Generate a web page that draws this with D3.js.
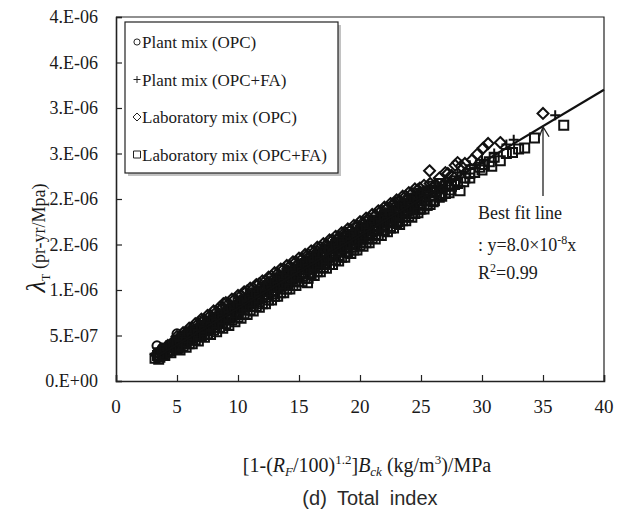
<!DOCTYPE html>
<html>
<head>
<meta charset="utf-8">
<script src="https://cdn.jsdelivr.net/npm/d3@7/dist/d3.min.js"></script>
<style>
    body { margin: 0; background: #fff; }
    svg text { font-family: "Liberation Serif", "Times New Roman", serif; fill: #1a1a1a; }
</style>
</head>
<body>
<div id="chart"></div>
<script>

// ---- data (y values are in units of 1e-7 pr-yr/MPa) ----
let xTicks = [0, 5, 10, 15, 20, 25, 30, 35, 40];
let yTicks = [0, 5, 10, 15, 20, 25, 30, 35, 40];
let yTickLabels = ["0.E+00", "5.E-07", "1.E-06", "2.E-06", "2.E-06", "3.E-06", "3.E-06", "4.E-06", "4.E-06"];

let seriesNames = ["Plant mix (OPC)", "Plant mix (OPC+FA)", "Laboratory mix (OPC)", "Laboratory mix (OPC+FA)"];

let plantOpc = [
    [3.36, 3.86], [3.8, 3.6], [4.3, 3.9], [5.0, 5.18], [5.6, 5.0], [6.2, 5.4], [6.8, 5.9], [7.4, 6.3],
    [8.0, 6.9], [8.6, 7.3], [9.2, 7.8], [9.8, 8.3], [10.4, 8.8], [11.0, 9.2], [11.6, 9.8], [12.2, 10.2],
    [12.8, 10.8], [13.4, 11.2], [14.0, 11.8], [14.6, 12.2], [15.2, 12.8], [15.8, 13.2], [16.4, 13.8],
    [17.0, 14.2], [17.6, 14.8], [18.2, 15.2], [18.8, 15.8], [19.4, 16.2], [20.0, 16.7], [21.0, 17.4], [22.0, 18.3]
];

let plantOpcFa = [
    [4.0, 3.4], [4.6, 3.6], [5.2, 4.4], [5.8, 4.6], [6.4, 5.4], [6.9, 6.6], [7.0, 5.7], [7.6, 6.3],
    [8.2, 6.6], [8.8, 7.3], [9.4, 7.6], [10.0, 8.3], [10.6, 8.6], [11.2, 9.3], [11.8, 9.6], [12.4, 10.3],
    [13.0, 10.6], [13.6, 11.2], [14.2, 11.6], [14.8, 12.2], [15.4, 12.6], [16.0, 13.1], [16.6, 13.6],
    [17.2, 14.1], [17.8, 14.6], [18.4, 15.1], [19.0, 15.5], [19.6, 16.0], [20.2, 16.6], [20.8, 17.0],
    [21.4, 17.5], [22.0, 18.0], [22.6, 18.5], [23.2, 18.9], [23.8, 19.5], [24.4, 19.9], [25.0, 20.4],
    [25.6, 20.9], [26.2, 21.4], [27.0, 22.0], [28.0, 22.9], [29.0, 23.7], [30.0, 24.3], [32.0, 26.0],
    [32.6, 26.5], [36.0, 29.2],
    [3.6, 3.0], [4.3, 3.5], [4.9, 3.8], [5.5, 4.5], [6.1, 4.8], [6.7, 5.5], [7.3, 5.8], [7.9, 6.5],
    [8.5, 6.7], [9.1, 7.5], [9.7, 7.7], [10.3, 8.4], [10.9, 8.6], [11.5, 9.4], [12.1, 9.6], [12.7, 10.3],
    [13.3, 10.5], [13.9, 11.3], [14.5, 11.5], [15.1, 12.2], [15.7, 12.4], [16.3, 13.2], [16.9, 13.4],
    [17.5, 14.1], [18.1, 14.3], [18.7, 15.1], [19.3, 15.3], [19.9, 16.0], [20.5, 16.2], [21.1, 17.0],
    [21.7, 17.2], [22.3, 17.9], [22.9, 18.1], [23.5, 18.9], [24.1, 19.1], [24.7, 19.9], [25.3, 20.1],
    [25.9, 20.8], [26.6, 21.3], [27.5, 22.1], [28.5, 23.0], [29.5, 23.8], [31.0, 25.0]
];

let labOpc = [
    [3.3, 2.9], [3.7, 3.4], [4.0, 3.2], [4.1, 3.5], [4.5, 4.0], [4.9, 4.1], [5.0, 3.9], [5.3, 4.7],
    [5.7, 4.8], [6.0, 4.9], [6.1, 5.4], [6.5, 5.5], [6.9, 6.0], [7.0, 5.6], [7.3, 6.2], [7.7, 6.7],
    [8.0, 6.5], [8.1, 6.8], [8.5, 7.3], [8.8, 8.5], [8.9, 7.5], [9.0, 7.1], [9.3, 8.0], [9.7, 8.1],
    [10.0, 8.1], [10.1, 8.7], [10.5, 8.8], [10.9, 9.3], [11.0, 8.8], [11.3, 9.5], [11.7, 10.1],
    [12.0, 9.7], [12.1, 10.1], [12.5, 10.8], [12.9, 10.8], [13.0, 10.4], [13.3, 11.5], [13.7, 11.4],
    [14.0, 11.3], [14.1, 12.1], [14.5, 12.0], [14.9, 12.8], [15.0, 12.0], [15.3, 12.7], [15.7, 13.5],
    [16.0, 12.9], [16.1, 13.3], [16.5, 14.2], [16.9, 14.0], [17.0, 13.6], [17.3, 14.8], [17.7, 14.7],
    [18.0, 14.5], [18.1, 15.5], [18.5, 15.3], [18.9, 16.2], [19.0, 15.2], [19.3, 16.0], [19.7, 16.9],
    [20.0, 16.1], [20.1, 16.6], [20.5, 17.5], [20.9, 17.3], [21.0, 16.8], [21.3, 18.2], [21.7, 18.0],
    [22.0, 17.7], [22.1, 18.8], [22.5, 18.6], [22.9, 19.6], [23.0, 18.4], [23.3, 19.3], [23.9, 20.1],
    [24.0, 19.3], [24.3, 20.0], [24.9, 21.2], [25.0, 20.1], [25.3, 20.7], [25.7, 23.1], [26.0, 20.8],
    [26.2, 21.6], [27.0, 22.9], [27.5, 22.6], [27.8, 23.7], [28.0, 24.0], [28.6, 23.9], [29.2, 24.3],
    [30.1, 25.6], [30.5, 26.1], [31.5, 26.2], [35.0, 29.4],
    [3.75, 3.5], [4.25, 3.9], [4.25, 3.1], [4.75, 4.4], [4.75, 3.6], [5.25, 4.9], [5.25, 4.0],
    [5.75, 5.3], [5.75, 4.4], [6.25, 5.8], [6.25, 4.8], [6.75, 6.3], [6.75, 5.1], [7.25, 6.7],
    [7.25, 5.5], [7.75, 7.2], [7.75, 5.9], [8.25, 7.6], [8.25, 6.3], [8.75, 8.1], [8.75, 6.6],
    [9.25, 8.5], [9.25, 7.0], [9.75, 9.0], [9.75, 7.4], [10.25, 9.4], [10.25, 7.8], [10.75, 9.9],
    [10.75, 8.2], [11.25, 10.2], [11.25, 8.6], [11.75, 10.7], [11.75, 9.0], [12.25, 11.0], [12.25, 9.3],
    [12.75, 11.5], [12.75, 9.7], [13.25, 11.8], [13.25, 10.1], [13.75, 12.3], [13.75, 10.5],
    [14.25, 12.6], [14.25, 10.9], [14.75, 13.1], [14.75, 11.3], [15.25, 13.4], [15.25, 11.7],
    [15.75, 13.9], [15.75, 12.1], [16.25, 14.2], [16.25, 12.5], [16.75, 14.7], [16.75, 12.9],
    [17.25, 15.0], [17.25, 13.3], [17.75, 15.5], [17.75, 13.7], [18.25, 15.8], [18.25, 14.1],
    [18.75, 16.3], [18.75, 14.5], [19.25, 16.6], [19.25, 14.9], [19.75, 17.1], [19.75, 15.3],
    [20.25, 17.4], [20.25, 15.7], [20.75, 17.9], [20.75, 16.1], [21.25, 18.2], [21.25, 16.5],
    [21.75, 18.7], [21.75, 16.9], [22.25, 19.0], [22.25, 17.3], [22.75, 19.5], [22.75, 17.7],
    [23.25, 19.8], [23.25, 18.1], [23.75, 20.3], [23.75, 18.5], [24.25, 20.6], [24.25, 18.9],
    [24.75, 21.0], [25.25, 21.5], [25.75, 21.7], [26.5, 22.3], [27.2, 22.8], [28.3, 23.6], [29.6, 24.9],
    [5.0, 4.4], [5.0, 4.9], [5.5, 4.8], [5.5, 5.3], [6.0, 5.2], [6.0, 5.8], [6.5, 5.6], [6.5, 6.3],
    [7.0, 6.0], [7.0, 6.8], [7.5, 6.4], [7.5, 7.2], [8.0, 6.8], [8.0, 7.7], [8.5, 7.2], [8.5, 8.1],
    [9.0, 7.6], [9.0, 8.6], [9.5, 8.0], [9.5, 9.0], [10.0, 8.4], [10.0, 9.4], [10.5, 8.8], [10.5, 9.8],
    [11.0, 9.2], [11.0, 10.2], [11.5, 9.6], [11.5, 10.6], [12.0, 10.0], [12.0, 11.0], [12.5, 10.4],
    [12.5, 11.4], [13.0, 10.8], [13.0, 11.9], [13.5, 11.2], [13.5, 12.3], [14.0, 11.6], [14.0, 12.7],
    [14.5, 12.0], [14.5, 13.1], [15.0, 12.4], [15.0, 13.5], [15.5, 12.8], [15.5, 13.9], [16.0, 13.2],
    [16.0, 14.3], [16.5, 13.6], [16.5, 14.7], [17.0, 14.0], [17.0, 15.1], [17.5, 14.4], [17.5, 15.5],
    [18.0, 14.8], [18.0, 15.9], [18.5, 15.2], [18.5, 16.3], [19.0, 15.6], [19.0, 16.7], [19.5, 16.0],
    [19.5, 17.1], [20.0, 16.4], [20.0, 17.5], [20.5, 16.8], [20.5, 17.9], [21.0, 17.2], [21.0, 18.3],
    [21.5, 17.6], [21.5, 18.7], [22.0, 18.0], [22.0, 19.1], [22.5, 18.4], [22.5, 19.5], [23.0, 18.8],
    [23.0, 19.9], [23.5, 19.2], [23.5, 20.3], [24.0, 19.6], [24.0, 20.7], [24.5, 20.0], [24.5, 21.1],
    [25.0, 20.4], [25.5, 20.8], [26.0, 21.2]
];

let labOpcFa = [
    [3.2, 2.5], [3.4, 2.8], [3.6, 2.6], [3.8, 3.0], [4.0, 3.4], [4.2, 3.2], [4.4, 3.3], [4.6, 3.9],
    [4.8, 3.7], [5.0, 4.1], [5.1, 3.6], [5.2, 3.9], [5.4, 4.5], [5.6, 4.3], [5.7, 4.1], [5.8, 4.6],
    [6.0, 4.5], [6.2, 5.1], [6.3, 4.5], [6.4, 4.9], [6.6, 5.4], [6.8, 5.2], [6.9, 5.0], [7.0, 5.5],
    [7.3, 6.0], [7.5, 5.5], [7.6, 5.7], [7.9, 6.4], [8.1, 5.9], [8.2, 6.3], [8.5, 7.0], [8.7, 6.4],
    [8.8, 6.7], [9.1, 7.4], [9.3, 6.9], [9.4, 7.2], [9.7, 7.9], [9.9, 7.3], [10.0, 7.6], [10.3, 8.4],
    [10.5, 7.8], [10.6, 8.2], [10.9, 8.9], [11.1, 8.2], [11.2, 8.6], [11.5, 9.3], [11.7, 8.7],
    [11.8, 9.0], [12.1, 9.8], [12.3, 9.2], [12.4, 9.5], [12.7, 10.3], [12.9, 9.6], [13.0, 9.9],
    [13.3, 10.8], [13.5, 10.1], [13.6, 10.5], [13.9, 11.2], [14.1, 10.6], [14.2, 10.9], [14.5, 11.7],
    [14.7, 11.0], [14.8, 11.4], [15.1, 12.2], [15.3, 11.5], [15.4, 11.8], [15.7, 10.8], [15.7, 12.7],
    [15.9, 11.9], [16.0, 12.3], [16.3, 13.1], [16.5, 12.4], [16.6, 12.8], [16.9, 13.6], [17.1, 12.9],
    [17.2, 13.2], [17.5, 14.1], [17.7, 13.3], [17.8, 13.7], [18.1, 14.6], [18.3, 13.8], [18.4, 14.2],
    [18.7, 15.0], [18.9, 14.2], [19.0, 14.7], [19.3, 15.5], [19.5, 14.7], [19.6, 15.1], [19.9, 16.0],
    [20.1, 15.2], [20.2, 15.6], [20.5, 16.5], [20.7, 15.6], [20.8, 16.0], [21.1, 16.9], [21.3, 16.1],
    [21.4, 16.5], [21.7, 17.4], [21.9, 16.6], [22.0, 16.9], [22.3, 17.8], [22.5, 17.0], [22.6, 17.4],
    [22.9, 18.3], [23.1, 17.5], [23.2, 17.9], [23.5, 18.8], [23.7, 18.0], [23.8, 18.4], [24.1, 19.2],
    [24.3, 18.4], [24.4, 18.8], [24.7, 19.8], [24.9, 18.9], [25.0, 19.3], [25.4, 20.2], [25.5, 19.3],
    [25.8, 19.8], [26.1, 19.8], [26.2, 20.9], [26.6, 20.4], [26.7, 20.3], [27.0, 21.4], [27.3, 20.7],
    [27.4, 21.0], [27.8, 22.0], [28.2, 20.9], [28.6, 22.3], [29.0, 22.8], [29.4, 22.9], [29.8, 23.5],
    [30.2, 23.8], [30.6, 24.1], [31.0, 24.6], [31.5, 24.2], [32.0, 25.0], [32.5, 25.1], [33.0, 25.5],
    [33.5, 25.6], [34.3, 26.7], [36.7, 28.1],
    [3.5, 2.4], [3.5, 3.1], [4.0, 2.8], [4.0, 3.6], [4.5, 3.1], [4.5, 3.9], [5.0, 3.5], [5.0, 4.3],
    [5.5, 3.8], [5.5, 4.7], [6.0, 4.1], [6.0, 5.2], [6.5, 4.5], [6.5, 5.6], [7.0, 4.9], [7.0, 6.0],
    [7.5, 5.2], [7.5, 6.5], [8.0, 5.6], [8.0, 6.9], [8.5, 5.9], [8.5, 7.3], [9.0, 6.3], [9.0, 7.8],
    [9.5, 6.7], [9.5, 8.1], [10.0, 7.0], [10.0, 8.6], [10.5, 7.4], [10.5, 8.9], [11.0, 7.8], [11.0, 9.4],
    [11.5, 8.2], [11.5, 9.7], [12.0, 8.5], [12.0, 10.2], [12.5, 8.9], [12.5, 10.5], [13.0, 9.3],
    [13.0, 11.0], [13.5, 9.7], [13.5, 11.3], [14.0, 10.1], [14.0, 11.8], [14.5, 10.5], [14.5, 12.1],
    [15.0, 10.9], [15.0, 12.6], [15.5, 11.3], [15.5, 12.9], [16.0, 11.7], [16.0, 13.4], [16.5, 12.0],
    [16.5, 13.7], [17.0, 12.5], [17.0, 14.2], [17.5, 12.8], [17.5, 14.5], [18.0, 13.3], [18.0, 15.0],
    [18.5, 13.6], [18.5, 15.3], [19.0, 14.1], [19.0, 15.8], [19.5, 14.4], [19.5, 16.1], [20.0, 14.9],
    [20.0, 16.6], [20.5, 15.2], [20.5, 16.9], [21.0, 15.7], [21.0, 17.4], [21.5, 16.0], [21.5, 17.7],
    [22.0, 16.5], [22.0, 18.2], [22.5, 16.8], [22.5, 18.5], [23.0, 17.3], [23.0, 19.0], [23.5, 17.6],
    [23.5, 19.3], [24.0, 18.1], [24.0, 19.8], [24.5, 18.4], [24.5, 20.1], [25.0, 18.9], [25.0, 20.6],
    [25.5, 19.3], [25.5, 20.9], [26.0, 19.7], [26.0, 21.4], [26.5, 20.2], [26.5, 21.7], [27.0, 20.6],
    [27.5, 21.4], [28.0, 21.7], [28.5, 21.9], [29.0, 22.3], [30.0, 23.2], [30.8, 23.6],
    [5.25, 3.9], [5.25, 3.4], [5.75, 4.3], [5.75, 3.7], [6.25, 4.7], [6.25, 4.1], [6.75, 5.1], [6.75, 4.4],
    [7.25, 5.5], [7.25, 4.8], [7.75, 5.9], [7.75, 5.1], [8.25, 6.3], [8.25, 5.4], [8.75, 6.7], [8.75, 5.8],
    [9.25, 7.1], [9.25, 6.1], [9.75, 7.5], [9.75, 6.5], [10.25, 7.9], [10.25, 6.9], [10.75, 8.3],
    [10.75, 7.3], [11.25, 8.7], [11.25, 7.7], [11.75, 9.1], [11.75, 8.1], [12.25, 9.5], [12.25, 8.5],
    [12.75, 9.9], [12.75, 8.9], [13.25, 10.3], [13.25, 9.3], [13.75, 10.7], [13.75, 9.7], [14.25, 11.1],
    [14.25, 10.1], [14.75, 11.5], [14.75, 10.5], [15.25, 11.9], [15.25, 10.9], [15.75, 12.3],
    [15.75, 11.3], [16.25, 12.7], [16.25, 11.6], [16.75, 13.1], [16.75, 12.0], [17.25, 13.5],
    [17.25, 12.4], [17.75, 13.9], [17.75, 12.8], [18.25, 14.3], [18.25, 13.2], [18.75, 14.7],
    [18.75, 13.6], [19.25, 15.1], [19.25, 14.0], [19.75, 15.5], [19.75, 14.4], [20.25, 15.9],
    [20.25, 14.8], [20.75, 16.3], [20.75, 15.2], [21.25, 16.7], [21.25, 15.6], [21.75, 17.1],
    [21.75, 16.0], [22.25, 17.5], [22.25, 16.4], [22.75, 17.9], [22.75, 16.8], [23.25, 18.3],
    [23.25, 17.2], [23.75, 18.7], [23.75, 17.6], [24.25, 19.1], [24.25, 18.0], [24.75, 19.5],
    [24.75, 18.5], [25.25, 19.9], [25.25, 18.9], [25.75, 20.3], [25.75, 19.4], [26.25, 20.7],
    [26.75, 21.1], [27.25, 21.5], [27.75, 21.6]
];

let fitSlope = 0.8;          // y = 8.0e-8 x  (in 1e-7 units)
let fitRange = [3, 40];

// ---- layout ----
let width = 631, height = 511;
let margin = {top: 17, right: 27, bottom: 130, left: 116};

let svg = d3.select("#chart").append("svg")
    .attr("width", width)
    .attr("height", height);

let x = d3.scaleLinear().domain([0, 40]).range([margin.left, width - margin.right]);
let y = d3.scaleLinear().domain([0, 40]).range([height - margin.bottom, margin.top]);

// frame (top + right)
svg.append("path")
    .attr("d", `M${x(0)},${y(40)}H${x(40)}V${y(0)}`)
    .attr("fill", "none")
    .attr("stroke", "#222")
    .attr("stroke-width", 1.2);

// axes, ticks pointing inward
let xAxis = d3.axisTop(x).tickValues(xTicks).tickSize(6).tickFormat("");
svg.append("g")
    .attr("transform", `translate(0,${y(0)})`)
    .call(xAxis)
    .call(g => g.select(".domain").attr("stroke", "#222").attr("stroke-width", 1.6))
    .call(g => g.selectAll(".tick line").attr("stroke", "#222").attr("stroke-width", 1.2));

let yAxis = d3.axisRight(y).tickValues(yTicks).tickSize(6).tickFormat("");
svg.append("g")
    .attr("transform", `translate(${x(0)},0)`)
    .call(yAxis)
    .call(g => g.select(".domain").attr("stroke", "#222").attr("stroke-width", 1.6))
    .call(g => g.selectAll(".tick line").attr("stroke", "#222").attr("stroke-width", 1.2));

// tick labels
svg.append("g").selectAll("text")
    .data(xTicks)
    .enter().append("text")
    .attr("x", d => x(d))
    .attr("y", y(0) + 32)
    .attr("text-anchor", "middle")
    .style("font-size", "19px")
    .text(d => d);

svg.append("g").selectAll("text")
    .data(yTicks)
    .enter().append("text")
    .attr("x", x(0) - 18)
    .attr("y", d => y(d) + 6)
    .attr("text-anchor", "end")
    .style("font-size", "18px")
    .text((d, i) => yTickLabels[i]);

// ---- markers ----
let mk = {
    circle: d3.symbol().type(d3.symbolCircle).size(64),
    plus: "M-5,0H5M0,-5V5",
    diamond: "M0,-5.5L5.5,0L0,5.5L-5.5,0Z",
    square: "M-4.5,-4.5H4.5V4.5H-4.5Z"
};

function drawSeries(data, shape) {
    svg.append("g").selectAll("path")
        .data(data)
        .enter().append("path")
        .attr("transform", d => `translate(${x(d[0])},${y(d[1])})`)
        .attr("d", typeof shape === "string" ? shape : shape())
        .attr("fill", "none")
        .attr("stroke", "#111")
        .attr("stroke-width", 2);
}

drawSeries(plantOpc, mk.circle);
drawSeries(plantOpcFa, mk.plus);
drawSeries(labOpc, mk.diamond);
drawSeries(labOpcFa, mk.square);

// best fit line
let line = d3.line().x(d => x(d)).y(d => y(d * fitSlope));
svg.append("path")
    .attr("d", line(fitRange))
    .attr("fill", "none")
    .attr("stroke", "#111")
    .attr("stroke-width", 2.2);

// arrow pointing at the fit line
let ax = 543;
let tipY = y(35.2 * fitSlope) + 2;
svg.append("path")
    .attr("d", `M${ax},196V${tipY}M${ax - 4},${tipY + 11}L${ax},${tipY}L${ax + 6},${tipY + 10}`)
    .attr("fill", "none")
    .attr("stroke", "#222")
    .attr("stroke-width", 1.3);

// annotation
let ann = svg.append("g").style("font-size", "18px");
ann.append("text").attr("x", 478).attr("y", 219).text("Best fit line");
let eq = ann.append("text").attr("x", 478).attr("y", 251);
eq.append("tspan").text(": y=8.0\u00d710");
eq.append("tspan").attr("dy", -7).style("font-size", "12px").text("-8");
eq.append("tspan").attr("dy", 7).text("x");
let r2 = ann.append("text").attr("x", 478).attr("y", 279);
r2.append("tspan").text("R");
r2.append("tspan").attr("dy", -7).style("font-size", "12px").text("2");
r2.append("tspan").attr("dy", 7).text("=0.99");

// ---- legend ----
let legend = svg.append("g").attr("transform", "translate(125,22)");
legend.append("rect")
    .attr("x", 3).attr("y", 3)
    .attr("width", 213).attr("height", 151)
    .attr("fill", "#9a9a9a")
    .attr("opacity", 0.6);
legend.append("rect")
    .attr("width", 213).attr("height", 151)
    .attr("fill", "#fff")
    .attr("stroke", "#222")
    .attr("stroke-width", 1.2);

let legendShapes = [
    d3.symbol().type(d3.symbolCircle).size(30)(),
    "M-3.5,0H3.5M0,-3.5V3.5",
    "M0,-4L4,0L0,4L-4,0Z",
    "M-3.5,-3.5H3.5V3.5H-3.5Z"
];

seriesNames.forEach((name, i) => {
    let row = legend.append("g").attr("transform", `translate(0,${20 + i * 37.5})`);
    row.append("path")
        .attr("transform", "translate(12,0)")
        .attr("d", legendShapes[i])
        .attr("fill", "none")
        .attr("stroke", "#222")
        .attr("stroke-width", 1);
    row.append("text")
        .attr("x", 17)
        .attr("y", 6)
        .style("font-size", "17px")
        .text(name);
});

// ---- axis titles ----
let ytitle = svg.append("text")
    .attr("transform", "translate(45,238) rotate(-90)")
    .attr("text-anchor", "middle");
ytitle.append("tspan").style("font-size", "27px").style("font-style", "italic").text("\u03bb");
ytitle.append("tspan").attr("dy", 5).style("font-size", "12px").text("T");
ytitle.append("tspan").attr("dy", -5).style("font-size", "18px").text(" (pr-yr/Mpa)");

let xtitle = svg.append("text")
    .attr("x", 367)
    .attr("y", 472)
    .attr("text-anchor", "middle")
    .style("font-size", "20px");
xtitle.append("tspan").text("[1-(");
xtitle.append("tspan").style("font-style", "italic").text("R");
xtitle.append("tspan").attr("dy", 4).style("font-size", "13px").style("font-style", "italic").text("F");
xtitle.append("tspan").attr("dy", -4).text("/100)");
xtitle.append("tspan").attr("dy", -8).style("font-size", "13px").text("1.2");
xtitle.append("tspan").attr("dy", 8).text("]");
xtitle.append("tspan").style("font-style", "italic").text("B");
xtitle.append("tspan").attr("dy", 4).style("font-size", "13px").style("font-style", "italic").text("ck");
xtitle.append("tspan").attr("dy", -4).text(" (kg/m");
xtitle.append("tspan").attr("dy", -8).style("font-size", "13px").text("3");
xtitle.append("tspan").attr("dy", 8).text(")/MPa");

svg.append("text")
    .attr("x", 370)
    .attr("y", 505)
    .attr("text-anchor", "middle")
    .style("font-family", "'Liberation Sans', Arial, sans-serif")
    .style("font-size", "20px")
    .style("fill", "#2a2a2a")
    .style("word-spacing", "5px")
    .text("(d) Total index");

</script>
</body>
</html>
